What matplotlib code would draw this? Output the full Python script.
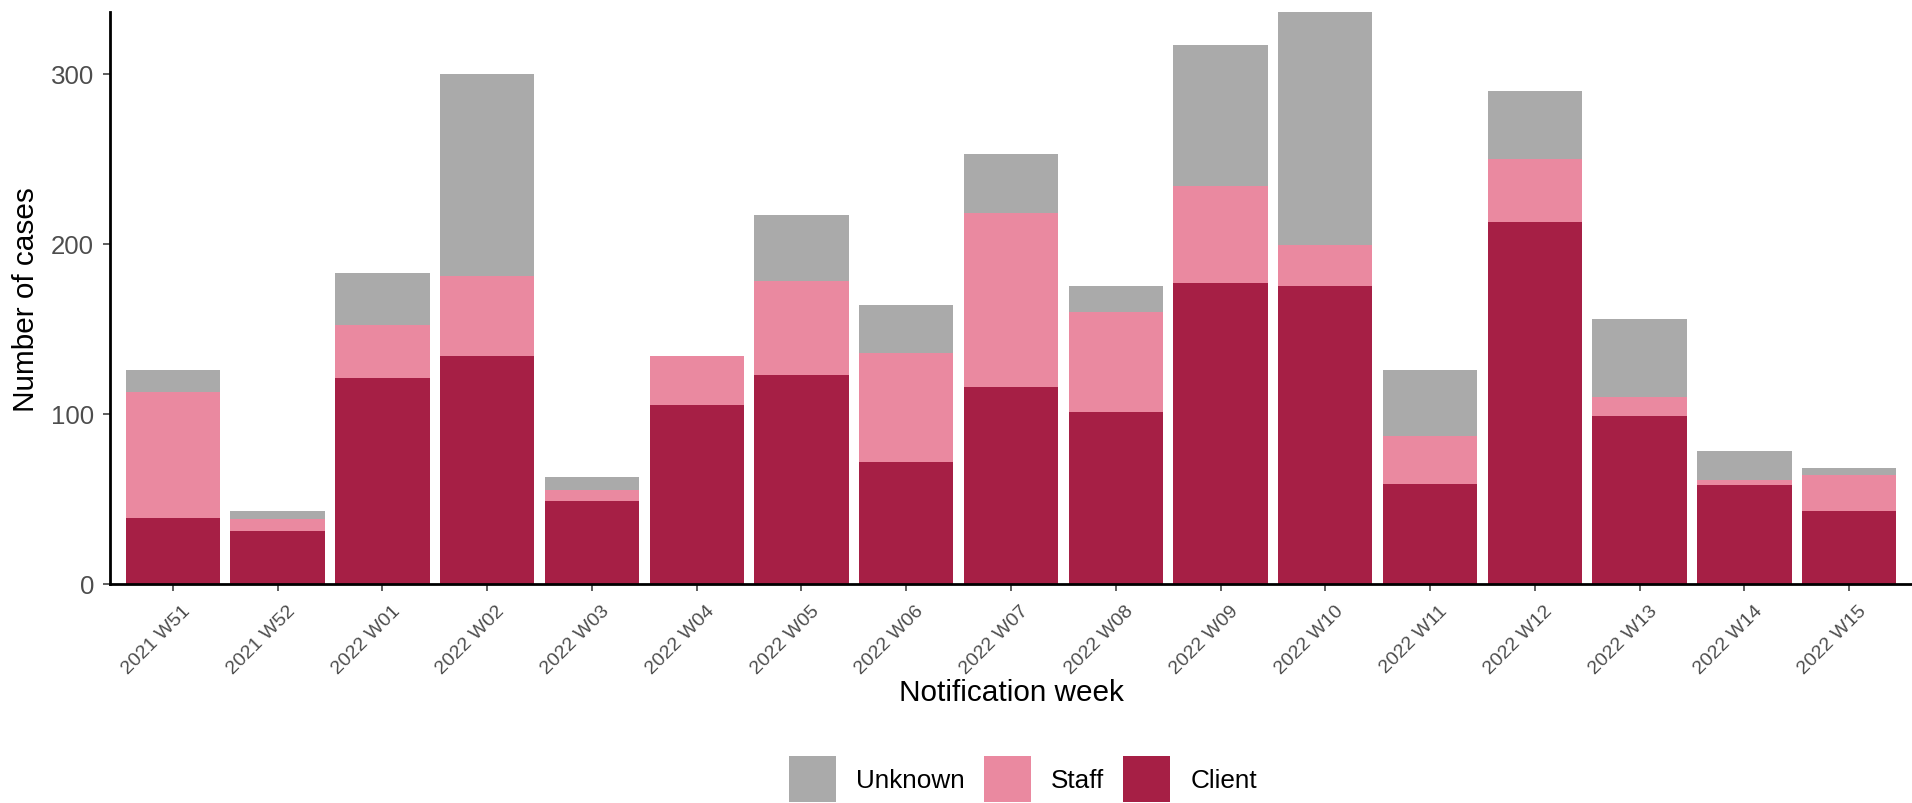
import matplotlib
matplotlib.use("Agg")
import matplotlib.pyplot as plt
import matplotlib.transforms as mtransforms
from matplotlib.patches import Patch
import numpy as np

weeks = ["2021 W51", "2021 W52", "2022 W01", "2022 W02", "2022 W03", "2022 W04",
         "2022 W05", "2022 W06", "2022 W07", "2022 W08", "2022 W09", "2022 W10",
         "2022 W11", "2022 W12", "2022 W13", "2022 W14", "2022 W15"]
client = [39, 31, 121, 134, 49, 105, 123, 72, 116, 101, 177, 175, 59, 213, 99, 58, 43]
staff = [74, 7, 31, 47, 6, 29, 55, 64, 102, 59, 57, 24, 28, 37, 11, 3, 21]
unknown = [13, 5, 31, 119, 8, 0, 39, 28, 35, 15, 83, 137, 39, 40, 46, 17, 4]

c_client = "#A61F45"
c_staff = "#EA89A0"
c_unknown = "#AAAAAA"

plt.rcParams['font.family'] = ['Liberation Sans', 'DejaVu Sans']

W, H = 1912, 804
fig = plt.figure(figsize=(W / 100, H / 100), dpi=100)
left, right, top, bottom = 110, 1912, 13.4, 585
ax = fig.add_axes([left / W, (H - bottom) / H, (right - left) / W, (bottom - top) / H])

x = np.arange(len(weeks))
client_a = np.array(client)
staff_a = np.array(staff)
unknown_a = np.array(unknown)
ax.bar(x, client_a, width=0.9, color=c_client, linewidth=0)
ax.bar(x, staff_a, width=0.9, bottom=client_a, color=c_staff, linewidth=0)
ax.bar(x, unknown_a, width=0.9, bottom=client_a + staff_a, color=c_unknown, linewidth=0)

total = client_a + staff_a + unknown_a
ax.set_xlim(-0.6, len(weeks) - 0.4)
ax.set_ylim(0, total.max())
ax.set_yticks([0, 100, 200, 300])

for s in ["top", "right"]:
    ax.spines[s].set_visible(False)
for s in ["left", "bottom"]:
    ax.spines[s].set_linewidth(2.0)
    ax.spines[s].set_color("black")

ax.tick_params(axis="y", length=5, width=1.1, color="#333333", pad=6.5,
               labelsize=18.6, labelcolor="#4D4D4D")
ax.tick_params(axis="x", length=5, width=1.1, color="#333333", pad=8,
               labelsize=14, labelcolor="#4D4D4D")
ax.set_xticks(x)
ax.set_xticklabels(weeks, rotation=45, ha="right", va="top", rotation_mode="anchor")
offset = mtransforms.ScaledTranslation(9 / 100, 0, fig.dpi_scale_trans)
for lab in ax.get_xticklabels():
    lab.set_transform(lab.get_transform() + offset)

ax.set_xlabel("Notification week", fontsize=21.4, color="black", va="center")
ax.xaxis.set_label_coords(0.5, (bottom - 693) / (bottom - top))
ax.set_ylabel("Number of cases", fontsize=21.4, color="black", va="center")
ax.yaxis.set_label_coords((26 - left) / (right - left), 0.5)

handles = [Patch(facecolor=c_unknown, edgecolor="none"),
           Patch(facecolor=c_staff, edgecolor="none"),
           Patch(facecolor=c_client, edgecolor="none")]
fig.legend(handles, ["Unknown", "Staff", "Client"], loc="center",
           bbox_to_anchor=(1023 / W, (H - 780) / H), ncol=3, frameon=False,
           fontsize=18.8, handlelength=1.8, handleheight=2.39,
           handletextpad=0.77, columnspacing=0.73, borderpad=0)

fig.savefig("out.png", dpi=100)
